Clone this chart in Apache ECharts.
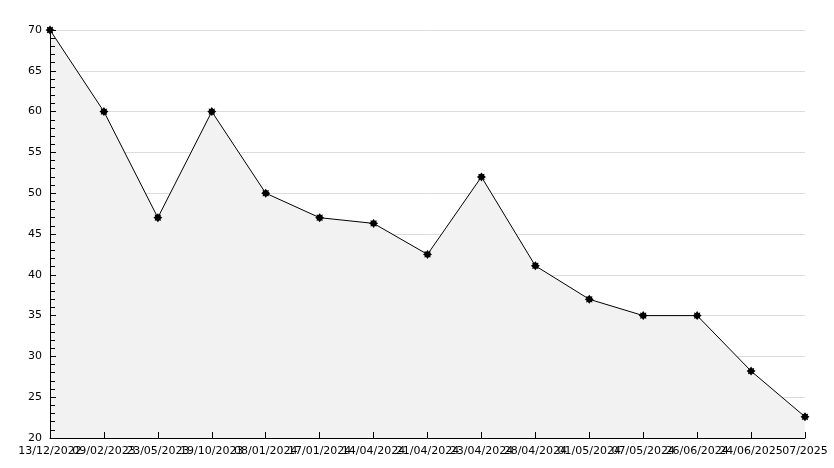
<!DOCTYPE html>
<html><head><meta charset="utf-8">
<script src="https://cdn.jsdelivr.net/npm/echarts@6/dist/echarts.min.js"></script>
<style>html,body{margin:0;padding:0;background:#fff}#c{width:834px;height:468px}</style>
</head><body><div id="c"></div>
<script>
const categories = ["13/12/2022","09/02/2023","23/05/2023","19/10/2023","08/01/2024","17/01/2024","14/04/2024","21/04/2024","23/04/2024","28/04/2024","01/05/2024","07/05/2024","26/06/2024","24/06/2025","07/2025"];
const values = [70, 60, 47, 60, 50, 47, 46.3, 42.5, 52, 41.1, 37, 35, 35, 28.2, 22.6];
const yTicks = {min: 20, max: 70, step: 5};

const star = 'path://M0,-10 L3,-6 L7,-7 L6,-3 L10,0 L6,3 L7,7 L3,6 L0,10 L-3,6 L-7,7 L-6,3 L-10,0 L-6,-3 L-7,-7 L-3,-6 Z';
const chart = echarts.init(document.getElementById('c'));
const font = {fontFamily: 'DejaVu Sans', fontSize: 11, color: '#000'};
chart.setOption({
  animation: false,
  grid: {left: 50, right: 29, top: 30, bottom: 30},
  xAxis: [{
    type: 'category', data: categories, boundaryGap: false, z: 0,
    axisLine: {show: false}, axisTick: {show: false}, axisLabel: {show: false},
    splitLine: {show: false}
  }, {
    type: 'category', data: categories, boundaryGap: false, position: 'bottom', z: 10,
    axisLine: {lineStyle: {color: '#000', width: 1}},
    axisTick: {inside: true, length: 6, interval: 0, lineStyle: {color: '#000'}},
    axisLabel: Object.assign({interval: 0, margin: 8, hideOverlap: false}, font),
    splitLine: {show: false}
  }],
  yAxis: [{
    type: 'value', min: yTicks.min, max: yTicks.max, interval: yTicks.step, z: 0,
    axisLine: {show: false}, axisTick: {show: false}, axisLabel: {show: false},
    splitLine: {show: true, lineStyle: {color: '#dcdcdc', width: 1}}
  }, {
    type: 'value', min: yTicks.min, max: yTicks.max, interval: yTicks.step, position: 'left', z: 10,
    axisLine: {show: true, lineStyle: {color: '#000', width: 1}},
    axisTick: {show: true, inside: true, length: 6, lineStyle: {color: '#000'}},
    minorTick: {show: true, splitNumber: 5, length: 5, lineStyle: {color: '#000'}},
    axisLabel: Object.assign({margin: 8}, font),
    splitLine: {show: false}
  }],
  series: [{
    type: 'line', data: values, xAxisIndex: 0, yAxisIndex: 0,
    symbol: star, symbolSize: 9,
    itemStyle: {color: '#000'},
    lineStyle: {color: '#000', width: 1},
    areaStyle: {color: '#f2f2f2', opacity: 1, origin: 'start'}
  }]
});
</script></body></html>
